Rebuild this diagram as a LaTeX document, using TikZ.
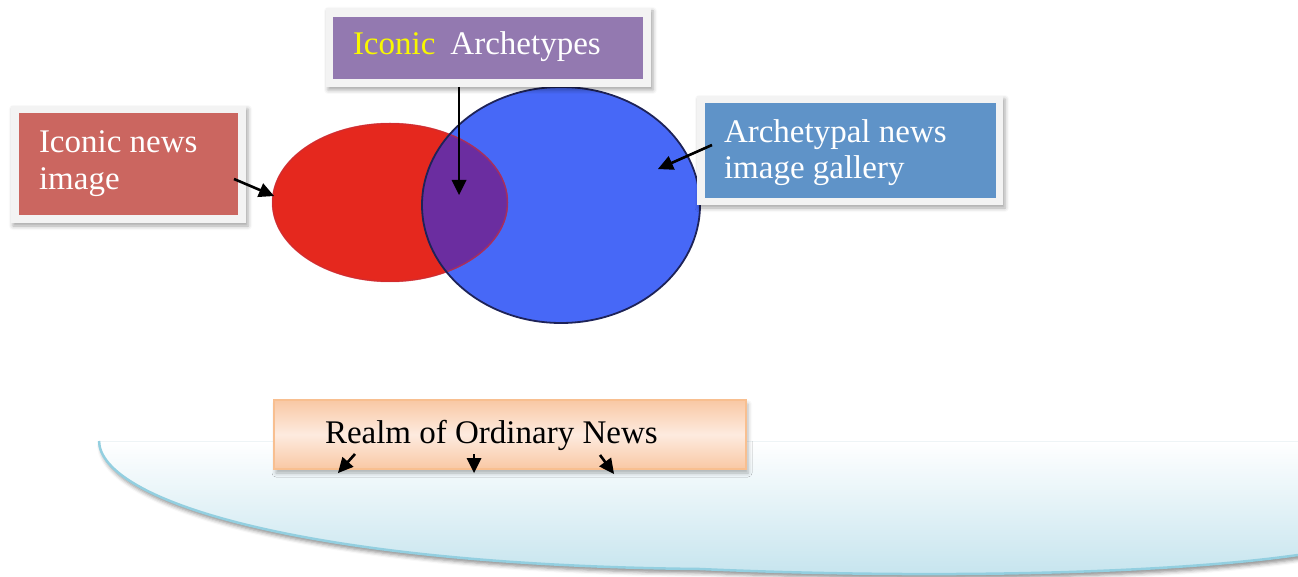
\documentclass[tikz,border=0pt]{standalone}
\usepackage{fontspec}
\setmainfont{Liberation Serif}
\usetikzlibrary{calc,shapes.geometric,shadows.blur}

\definecolor{framegray}{HTML}{F3F3F3}
\definecolor{boxred}{HTML}{CB6660}
\definecolor{boxpurple}{HTML}{9379B0}
\definecolor{boxblue}{HTML}{5F93C8}
\definecolor{iconyellow}{HTML}{F8F800}
\definecolor{setred}{HTML}{E5281E}
\definecolor{setredrim}{HTML}{C8303A}
\definecolor{setblue}{HTML}{4768F7}
\definecolor{setblueedge}{HTML}{1E2358}
\definecolor{setoverlap}{HTML}{6B2DA0}
\definecolor{peachdark}{HTML}{F9C8A4}
\definecolor{peachlight}{HTML}{FDEBDF}
\definecolor{peachedge}{HTML}{F8BF90}
\definecolor{realmblue}{HTML}{C5E4EE}
\definecolor{realmedge}{HTML}{93CFE0}
\definecolor{realmtop}{HTML}{EEF4F6}

\tikzset{
  frame/.style={fill=framegray, inner sep=0pt, outer sep=0pt,
    blur shadow={shadow xshift=2pt, shadow yshift=-3pt,
                 shadow blur radius=4pt, shadow opacity=35}},
  panel/.style={inner sep=0pt, outer sep=0pt},
  caption/.style={font=\fontsize{33}{37}\selectfont, inner sep=0pt,
    outer sep=0pt, anchor=base west},
  shaft/.style={draw=black, line width=2.6pt},
}

% a black pointer: shaft from #1 to a filled triangular head ending at #2
\newcommand{\drawpointer}[2]{%
  \draw[shaft] (#1) -- ($(#2)!14pt!(#1)$);
  \fill[black] (#2)
    -- ($($(#2)!15pt!(#1)$)!7.5pt!90:(#2)$)
    -- ($($(#2)!15pt!(#1)$)!7.5pt!-90:(#2)$) -- cycle;
}

\begin{document}
\begin{tikzpicture}[x=1pt,y=1pt]
\useasboundingbox (0,-577) rectangle (1298,0);

% the realm of ordinary news: a shaded ground with a curved rim
\fill[top color=white, bottom color=realmblue,
      blur shadow={shadow xshift=2pt, shadow yshift=-4pt,
                   shadow blur radius=4pt, shadow opacity=45}]
  (99,-441) .. controls (100,-500) and (300,-565) .. (700,-569)
            .. controls (900,-578) and (1150,-576) .. (1298,-555)
  -- (1298,-441) -- cycle;
\draw[realmtop, line width=1pt] (99,-441) -- (1298,-441);
\draw[realmedge, line width=2.5pt]
  (99,-441) .. controls (100,-500) and (300,-565) .. (700,-569)
            .. controls (900,-578) and (1150,-576) .. (1298,-555);

% the two overlapping sets
\node[ellipse, panel, fill=setblue, minimum width=278pt, minimum height=236pt]
  (gallery) at (561,-205) {};
\node[ellipse, panel, fill=setred, minimum width=236pt, minimum height=159pt]
  (iconic) at (390,-202.5) {};
\begin{scope}
  \clip (390,-202.5) ellipse [x radius=118pt, y radius=79.5pt];
  \fill[setoverlap] (561,-205) ellipse [x radius=139pt, y radius=118pt];
\end{scope}
\draw[setredrim, line width=1.5pt, opacity=0.6]
  (390,-202.5) ellipse [x radius=117.5pt, y radius=79pt];
\draw[setblueedge, line width=1.8pt]
  (561,-205) ellipse [x radius=139pt, y radius=118pt];

% label boxes
\node[frame, minimum width=235pt, minimum height=117pt] (newsframe) at (128.5,-164.5) {};
\node[panel, fill=boxred, minimum width=219pt, minimum height=102pt] (newsbox) at (128.5,-164) {};
\node[caption, text=white] (newsA) at (39,-153) {Iconic news};
\node[caption, text=white] (newsB) at (39,-190) {image};

\node[frame, minimum width=325pt, minimum height=79pt] (archframe) at (488.5,-47.5) {};
\node[panel, fill=boxpurple, minimum width=310pt, minimum height=62pt] (archbox) at (488,-48) {};
\node[caption, text=white] (archtext) at (353,-55)
  {{\color{iconyellow}Iconic}\hspace{15pt}Archetypes};

\node[frame, minimum width=306pt, minimum height=109pt] (galframe) at (850,-150.5) {};
\node[panel, fill=boxblue, minimum width=291pt, minimum height=95pt] (galbox) at (850.5,-150.5) {};
\node[caption, text=white] (galA) at (724,-143) {Archetypal news};
\node[caption, text=white] (galB) at (724,-179) {image gallery};

\node[panel, draw=peachedge, line width=2pt,
      top color=peachdark, bottom color=peachdark, middle color=peachlight,
      minimum width=472pt, minimum height=69pt,
      blur shadow={shadow xshift=2pt, shadow yshift=-4pt,
                   shadow blur radius=4pt, shadow opacity=30}]
  (realmbox) at (510,-434.5) {};
\node[caption, text=black] (realmtext) at (325,-443) {Realm of Ordinary News};

% pointers
\coordinate (newsfoot) at (234,-179);
\coordinate (iconictip) at (274,-196);
\coordinate (archfoot) at (459,-87);
\coordinate (overlaptip) at (459,-195);
\coordinate (galfoot) at (712,-145);
\coordinate (galtip) at (658,-169);
\drawpointer{newsfoot}{iconictip}
\drawpointer{archfoot}{overlaptip}
\drawpointer{galfoot}{galtip}

\coordinate (dropAfrom) at (355,-454);
\coordinate (dropAto) at (338,-473);
\coordinate (dropBfrom) at (474,-454);
\coordinate (dropBto) at (474,-473);
\coordinate (dropCfrom) at (600,-455);
\coordinate (dropCto) at (614,-474);
\drawpointer{dropAfrom}{dropAto}
\drawpointer{dropBfrom}{dropBto}
\drawpointer{dropCfrom}{dropCto}
\end{tikzpicture}
\end{document}
